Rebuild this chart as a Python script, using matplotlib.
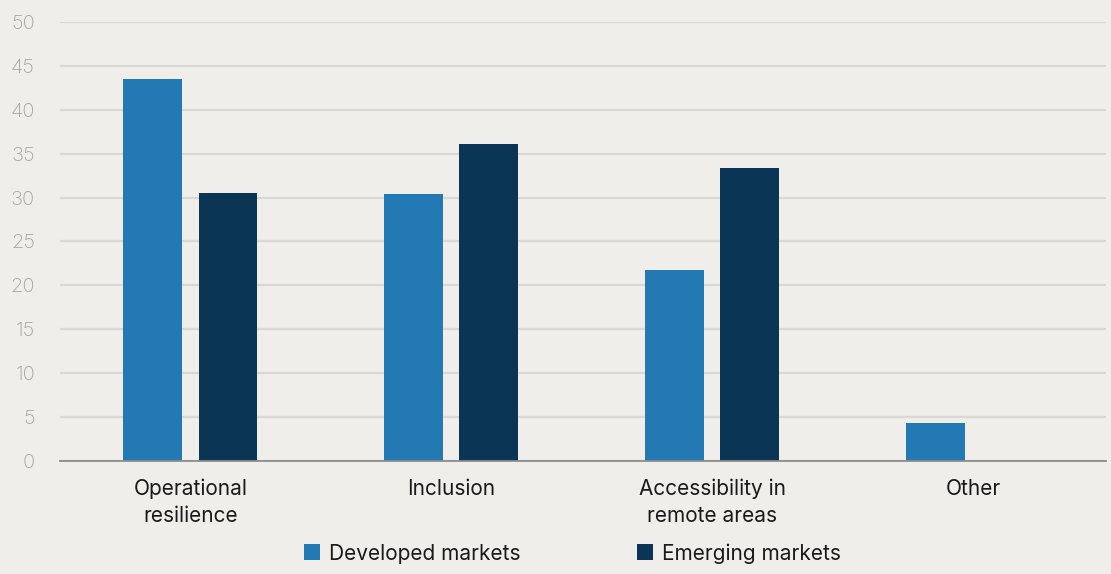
import numpy as np
import matplotlib.pyplot as plt
from matplotlib.patches import Patch

# data
categories = ['Operational\nresilience', 'Inclusion', 'Accessibility in\nremote areas', 'Other']
developed = [43.5, 30.4, 21.8, 4.3]
emerging = [30.5, 36.1, 33.4, 0.0]
series_names = ['Developed markets', 'Emerging markets']
yticks = [0, 5, 10, 15, 20, 25, 30, 35, 40, 45, 50]

bg = '#efeeeb'
col_dev = '#2279b4'
col_emg = '#0b3554'

plt.rcParams['font.family'] = ['Inter', 'DejaVu Sans']

fig = plt.figure(figsize=(11.11, 5.74), dpi=100, facecolor=bg)
ax = fig.add_axes([0.054, 0.197, 0.9415, 0.7647], facecolor=bg)

x = np.arange(len(categories))
w = 0.226
off = 0.144
ax.bar(x - off, developed, width=w, color=col_dev, zorder=3)
ax.bar(x + off, emerging, width=w, color=col_emg, zorder=3)

ax.set_xlim(-0.5, 3.51)
ax.set_ylim(0, 50)
ax.set_yticks(yticks)
ax.set_xticks(x)
ax.set_xticklabels(categories, fontsize=15, color='#1a1a1a', linespacing=1.4)
ax.tick_params(axis='x', length=0, pad=13)
ax.tick_params(axis='y', length=0, pad=18, labelsize=14.5, labelcolor='#a3a3a3')
for lab in ax.get_yticklabels():
    lab.set_fontweight('light')

ax.grid(axis='y', color='#d9d8d5', linewidth=1.6, zorder=0)
for s in ['top', 'right', 'left']:
    ax.spines[s].set_visible(False)
ax.spines['bottom'].set_color('#8c8c8c')
ax.spines['bottom'].set_linewidth(1.3)
ax.spines['bottom'].set_zorder(4)

handles = [Patch(facecolor=col_dev), Patch(facecolor=col_emg)]
fig.legend(handles, series_names, loc='lower center', bbox_to_anchor=(0.515, 0.0),
           ncol=2, frameon=False, fontsize=15, handlelength=0.8, handleheight=0.8,
           handletextpad=0.4, columnspacing=5.6, borderpad=0.0, labelcolor='#1a1a1a')

fig.savefig('out.png', dpi=100, facecolor=bg)
